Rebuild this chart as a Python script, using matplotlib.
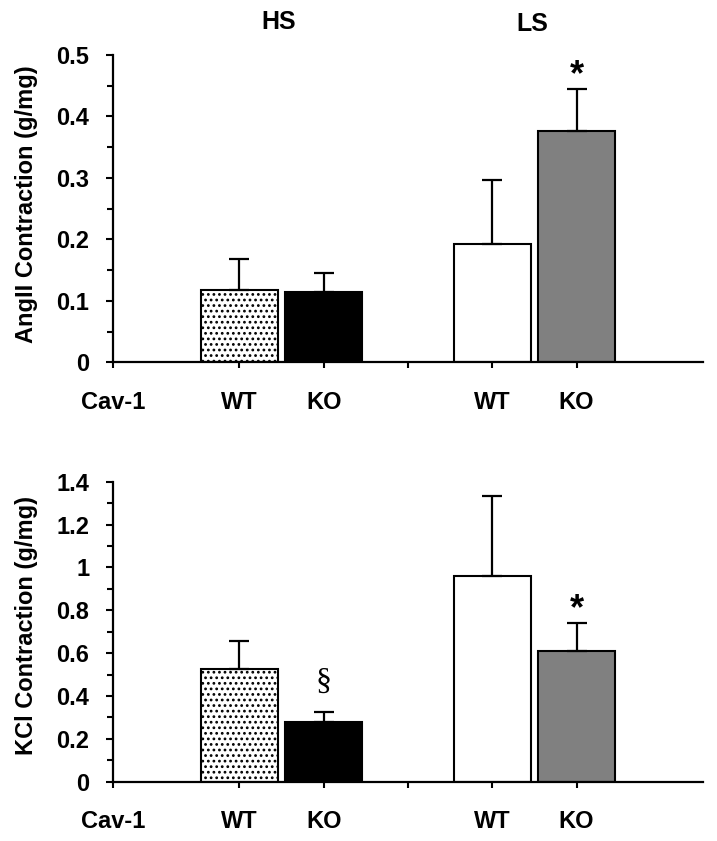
import numpy as np
import matplotlib
matplotlib.use("Agg")
import matplotlib.pyplot as plt

plt.rcParams['font.family'] = ['Liberation Sans Narrow', 'Liberation Sans', 'DejaVu Sans']
plt.rcParams['font.weight'] = 'bold'
plt.rcParams['hatch.linewidth'] = 1.2

# data
groups = ['HS', 'LS']
genotypes = ['WT', 'KO']
angii_mean = [0.117, 0.114, 0.192, 0.376]
angii_err = [0.051, 0.032, 0.105, 0.068]
kcl_mean = [0.526, 0.277, 0.961, 0.611]
kcl_err = [0.129, 0.048, 0.374, 0.128]
angii_marks = ['', '', '', '*']
kcl_marks = ['', '§', '', '*']

x_pos = [1.5, 2.5, 4.5, 5.5]
face = ['white', 'black', 'white', '#808080']
hatches = ['...', None, None, None]
tick_pos = [0, 1.5, 2.5, 3.5, 4.5, 5.5]
tick_labels = ['Cav-1', 'WT', 'KO', '', 'WT', 'KO']

fig = plt.figure(figsize=(7.17, 8.41), dpi=100)
ax1 = fig.add_axes([0.1576, 0.5692, 0.8229, 0.3654])
ax2 = fig.add_axes([0.1576, 0.0705, 0.8229, 0.3567])


def draw(ax, means, errs, marks, ymax, major, ylabel, label_y):
    for i in range(len(means)):
        ax.bar(x_pos[i], means[i], width=0.92, color=face[i], edgecolor='black',
               linewidth=1.5, hatch=hatches[i], zorder=2)
        ax.errorbar(x_pos[i], means[i], yerr=[[0], [errs[i]]], fmt='none',
                    ecolor='black', elinewidth=1.6, capsize=7, capthick=1.6, zorder=3)
        if marks[i] == '*':
            ax.annotate('*', (x_pos[i], means[i] + errs[i]), xytext=(0, 10),
                        textcoords='offset points', ha='center', va='center',
                        fontsize=26, fontweight='bold', family=['Liberation Sans', 'DejaVu Sans'])
        elif marks[i]:
            ax.annotate(marks[i], (x_pos[i], means[i] + errs[i]), xytext=(0, 21.5),
                        textcoords='offset points', ha='center', va='center',
                        fontsize=23, fontweight='normal', family=['Liberation Serif', 'DejaVu Serif'])
    ax.set_xlim(0, 7)
    ax.set_ylim(0, ymax)
    ax.spines['top'].set_visible(False)
    ax.spines['right'].set_visible(False)
    for s in ['left', 'bottom']:
        ax.spines[s].set_linewidth(1.6)
    ticks = np.arange(0, ymax + major / 2, major)
    ax.set_yticks(ticks)
    ax.set_yticks(np.arange(major / 2, ymax, major), minor=True)
    ax.set_yticklabels(['%g' % round(v, 2) for v in ticks])
    ax.tick_params(axis='y', which='major', length=5, width=1.5, pad=12, labelsize=17)
    ax.tick_params(axis='y', which='minor', length=4, width=1.5)
    ax.set_xticks(tick_pos)
    ax.set_xticklabels(tick_labels)
    ax.tick_params(axis='x', length=4.5, width=1.5, pad=16, labelsize=17)
    ax.set_ylabel(ylabel, fontsize=17, fontweight='bold')
    ax.yaxis.set_label_coords(-0.127, label_y)


draw(ax1, angii_mean, angii_err, angii_marks, 0.5, 0.1, 'AngII Contraction (g/mg)', 0.515)
draw(ax2, kcl_mean, kcl_err, kcl_marks, 1.4, 0.2, 'KCl Contraction (g/mg)', 0.522)

fig.text(279 / 717, 1 - 22 / 841, groups[0], ha='center', va='center', fontsize=18, fontweight='bold')
fig.text(532 / 717, 1 - 24 / 841, groups[1], ha='center', va='center', fontsize=18, fontweight='bold')

fig.savefig('out.png', dpi=100)
